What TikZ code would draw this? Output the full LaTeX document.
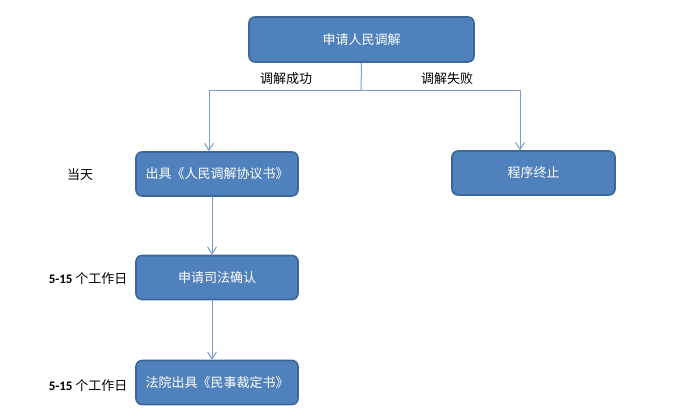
\documentclass[tikz,border=0pt]{standalone}
\usepackage{fontspec}
\setmainfont{Noto Sans CJK SC}
\newfontfamily\latinfont{Carlito}
\usepackage{tikz}
\usetikzlibrary{calc}
\usetikzlibrary{arrows.meta}
\definecolor{boxfill}{rgb}{0.310,0.506,0.741}
\definecolor{boxdraw}{rgb}{0.239,0.400,0.600}
\definecolor{linecol}{rgb}{0.475,0.612,0.792}
\tikzstyle{every node}=[font=\fontsize{13}{15}\selectfont]
\tikzstyle{stepbox}=[draw=boxdraw,line width=1.6pt,fill=boxfill,rounded corners=6pt,text=white,minimum height=44pt,inner sep=0pt]
\tikzstyle{link}=[draw=linecol,line width=1pt]

\begin{document}
\begin{tikzpicture}[line cap=round,line join=round,>={Straight Barb[length=7pt,width=9pt]},x=1pt,y=-1pt]
            \useasboundingbox (0,0) rectangle (700,415);
            \node [stepbox,minimum width=225pt,minimum height=45pt] (apply) at (361.5,39.5) {申请人民调解};
            \node [stepbox,minimum width=162pt] (issue) at (217,174) {出具《人民调解协议书》};
            \node [stepbox,minimum width=163pt] (stop) at (533.5,173) {程序终止};
            \node [stepbox,minimum width=162pt] (confirm) at (217,277.5) {申请司法确认};
            \node [stepbox,minimum width=162pt] (ruling) at (217,382.5) {法院出具《民事裁定书》};
            \coordinate (split) at (361,90);
            \draw [link] (apply.south) -- (split);
            \draw [link,->] (split) -| ([xshift=-8pt]issue.north);
            \draw [link,->] (split) -| ([xshift=-13.5pt]stop.north);
            \draw [link,->] ([xshift=-5pt]issue.south) -- ([xshift=-5pt]confirm.north);
            \draw [link,->] ([xshift=-5pt]confirm.south) -- ([xshift=-5pt]ruling.north);
            \node (ok) at (286,79) {调解成功};
            \node (fail) at (447,79) {调解失败};
            \node (sameday) at (80,175) {当天};
            \node [anchor=east] (days1) at (131,279) {{\latinfont\bfseries 5-15} 个工作日};
            \node [anchor=east] (days2) at (131,386) {{\latinfont\bfseries 5-15} 个工作日};
\end{tikzpicture}
\end{document}
